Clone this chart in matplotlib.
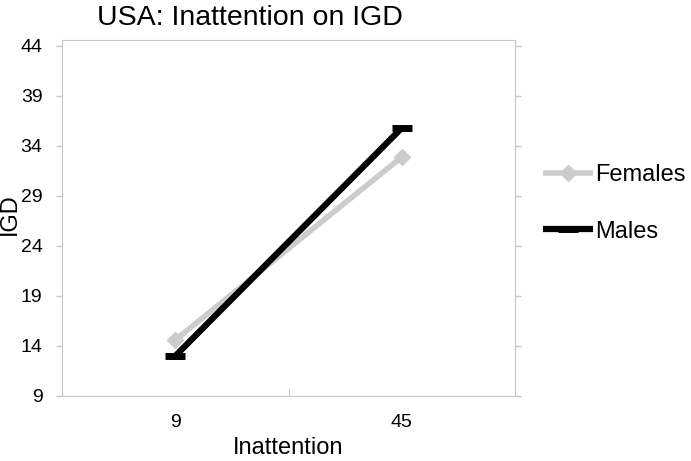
import matplotlib
matplotlib.use("Agg")
import matplotlib.pyplot as plt

categories = ["9", "45"]
females = [14.6, 32.9]
males = [13.0, 35.8]
yticks = [9, 14, 19, 24, 29, 34, 39, 44]

plt.rcParams['font.family'] = ['Liberation Sans', 'DejaVu Sans']

fig = plt.figure(figsize=(6.91, 4.61), dpi=100)
ax = fig.add_axes([62/691, 1-396/461, (515-62)/691, (396-40)/461])

x = list(range(len(categories)))
ax.plot(x, females, color='#cccccc', lw=4, marker='D', ms=8, label='Females', solid_capstyle='butt')
ax.plot(x, males, color='black', lw=4.5, marker='_', ms=14, mew=5, label='Males', solid_capstyle='butt')

ax.set_xlim(-0.5, 1.5)
ax.set_ylim(9, 44.6)
ax.set_yticks(yticks)
ax.set_xticks([-0.5, 0.5, 1.5])
ax.set_xticklabels([])
ax.set_xticks(x, minor=True)
ax.set_xticklabels(categories, minor=True)
ax.tick_params(axis='x', which='minor', length=0, pad=13, labelsize=14)
ax.tick_params(axis='x', which='major', length=5, color='#c8c8c8', direction='in')
ax.tick_params(axis='y', labelsize=14, pad=10)
ax.tick_params(axis='y', right=True, direction='out', length=4, color='#c8c8c8', width=1)
for s in ax.spines.values():
    s.set_color('#c8c8c8')

fig.text(250/691, 1-25/461, "USA: Inattention on IGD", fontsize=20.5, ha='center', va='baseline')
ax.set_xlabel("Inattention", fontsize=17, labelpad=4)
ax.set_ylabel("IGD", fontsize=17)
ax.yaxis.set_label_coords(-0.09, 0.51)

ax.legend(loc='center left', bbox_to_anchor=(543/691, 1-203.5/461), bbox_transform=fig.transFigure,
          frameon=False, fontsize=17, borderpad=0, borderaxespad=0,
          handlelength=2.1, handletextpad=0.1, labelspacing=1.45)

fig.savefig("out.png", dpi=100)
